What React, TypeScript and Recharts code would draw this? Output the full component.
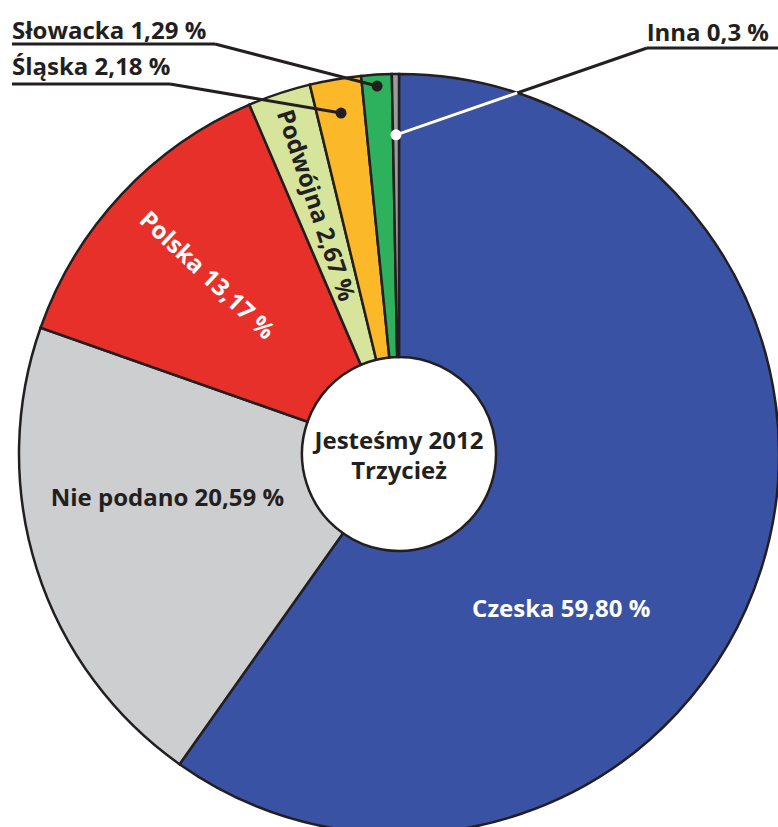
import { Cell, Pie, PieChart } from "recharts";

const categories = ["Czeska", "Nie podano", "Polska", "Podwójna", "Śląska", "Słowacka", "Inna"];
const shares = [59.8, 20.59, 13.17, 2.67, 2.18, 1.29, 0.3];
const shareLabels = ["59,80 %", "20,59 %", "13,17 %", "2,67 %", "2,18 %", "1,29 %", "0,3 %"];
const centerTitle = ["Jesteśmy 2012", "Trzycież"];

const sliceColors = ["#3a52a3", "#cdcecf", "#e8302a", "#d7e49b", "#fbb829", "#2eb15c", "#9b9ca0"];

const DARK = "#231f20";
const FONT = "'Open Sans', 'Noto Sans', sans-serif";
const RAD = Math.PI / 180;

// where each slice's label goes: shift is clockwise degrees from the slice middle
const labelLayout: any[] = [
  { kind: "inside", shift: 26, radius: 0.59, rotate: false, color: "#ffffff" },
  { kind: "inside", shift: 7, radius: 0.62, rotate: false, color: DARK },
  { kind: "inside", shift: 0, radius: 0.69, rotate: true, color: "#ffffff" },
  { kind: "inside", shift: 0, radius: 0.69, rotate: true, color: DARK },
  { kind: "outside", x: 12, y: 75, anchor: "start", lineY: 84, lineFrom: 12, lineTo: 170, dot: 0.91 },
  { kind: "outside", x: 12, y: 39, anchor: "start", lineY: 44, lineFrom: 12, lineTo: 215, dot: 0.97 },
  { kind: "outside", x: 769, y: 41, anchor: "end", lineY: 48, lineFrom: 647, lineTo: 778, dot: 0.84, whiteInside: true },
];

const data = categories.map((name, i) => ({ name, value: shares[i] }));

function polar(cx: number, cy: number, r: number, angle: number) {
  return { x: cx + r * Math.cos(-angle * RAD), y: cy + r * Math.sin(-angle * RAD) };
}

function SliceLabel(props: any) {
  const { cx, cy, midAngle, outerRadius, index } = props;
  const cfg = labelLayout[index];
  const text = `${categories[index]} ${shareLabels[index]}`;
  const textStyle = { fontFamily: FONT, fontWeight: 700, fontSize: 24 };

  if (cfg.kind === "inside") {
    const p = polar(cx, cy, outerRadius * cfg.radius, midAngle - cfg.shift);
    const rot = cfg.rotate ? 90 - midAngle - 270 : 0;
    return (
      <text
        x={p.x}
        y={p.y}
        dy="0.36em"
        textAnchor="middle"
        fill={cfg.color}
        transform={`rotate(${rot}, ${p.x}, ${p.y})`}
        style={textStyle}
      >
        {text}
      </text>
    );
  }

  const dot = polar(cx, cy, outerRadius * cfg.dot, midAngle);
  const start = cfg.anchor === "start" ? { x: cfg.lineTo, y: cfg.lineY } : { x: cfg.lineFrom, y: cfg.lineY };

  let edge = null;
  if (cfg.whiteInside) {
    const fx = dot.x - cx;
    const fy = dot.y - cy;
    const dx = start.x - dot.x;
    const dy = start.y - dot.y;
    const a = dx * dx + dy * dy;
    const b = 2 * (fx * dx + fy * dy);
    const c = fx * fx + fy * fy - outerRadius * outerRadius;
    const t = (-b + Math.sqrt(b * b - 4 * a * c)) / (2 * a);
    edge = { x: dot.x + t * dx, y: dot.y + t * dy };
  }

  return (
    <g>
      <line x1={cfg.lineFrom} y1={cfg.lineY} x2={cfg.lineTo} y2={cfg.lineY} stroke={DARK} strokeWidth={3} />
      <line x1={start.x} y1={start.y} x2={dot.x} y2={dot.y} stroke={DARK} strokeWidth={3} />
      {edge && <line x1={edge.x} y1={edge.y} x2={dot.x} y2={dot.y} stroke="#ffffff" strokeWidth={3} />}
      <circle cx={dot.x} cy={dot.y} r={5.5} fill={cfg.whiteInside ? "#ffffff" : DARK} />
      <text x={cfg.x} y={cfg.y} textAnchor={cfg.anchor} fill={DARK} style={textStyle}>
        {text}
      </text>
    </g>
  );
}

function CenterLabel(props: any) {
  const { cx, cy } = props;
  return (
    <text textAnchor="middle" fill={DARK} style={{ fontFamily: FONT, fontWeight: 700, fontSize: 24 }}>
      <tspan x={cx} y={cy - 5}>
        {centerTitle[0]}
      </tspan>
      <tspan x={cx} y={cy + 25}>
        {centerTitle[1]}
      </tspan>
    </text>
  );
}

export default function App() {
  return (
    <div style={{ width: 778, height: 827, background: "#ffffff" }}>
      <style>{"body{margin:0}"}</style>
      <PieChart width={778} height={827} margin={{ top: 0, right: 0, bottom: 0, left: 0 }}>
        <Pie
          data={data}
          dataKey="value"
          nameKey="name"
          cx={399}
          cy={454}
          innerRadius={97}
          outerRadius={380}
          startAngle={90}
          endAngle={-270}
          stroke={DARK}
          strokeWidth={2.5}
          label={SliceLabel}
          labelLine={false}
          isAnimationActive={false}
        >
          {data.map((d, i) => (
            <Cell key={d.name} fill={sliceColors[i]} />
          ))}
        </Pie>
        <Pie
          data={[{ name: "center", value: 1 }]}
          dataKey="value"
          cx={399}
          cy={454}
          innerRadius={0}
          outerRadius={95}
          fill="#ffffff"
          stroke="none"
          label={CenterLabel}
          labelLine={false}
          isAnimationActive={false}
        />
      </PieChart>
    </div>
  );
}
